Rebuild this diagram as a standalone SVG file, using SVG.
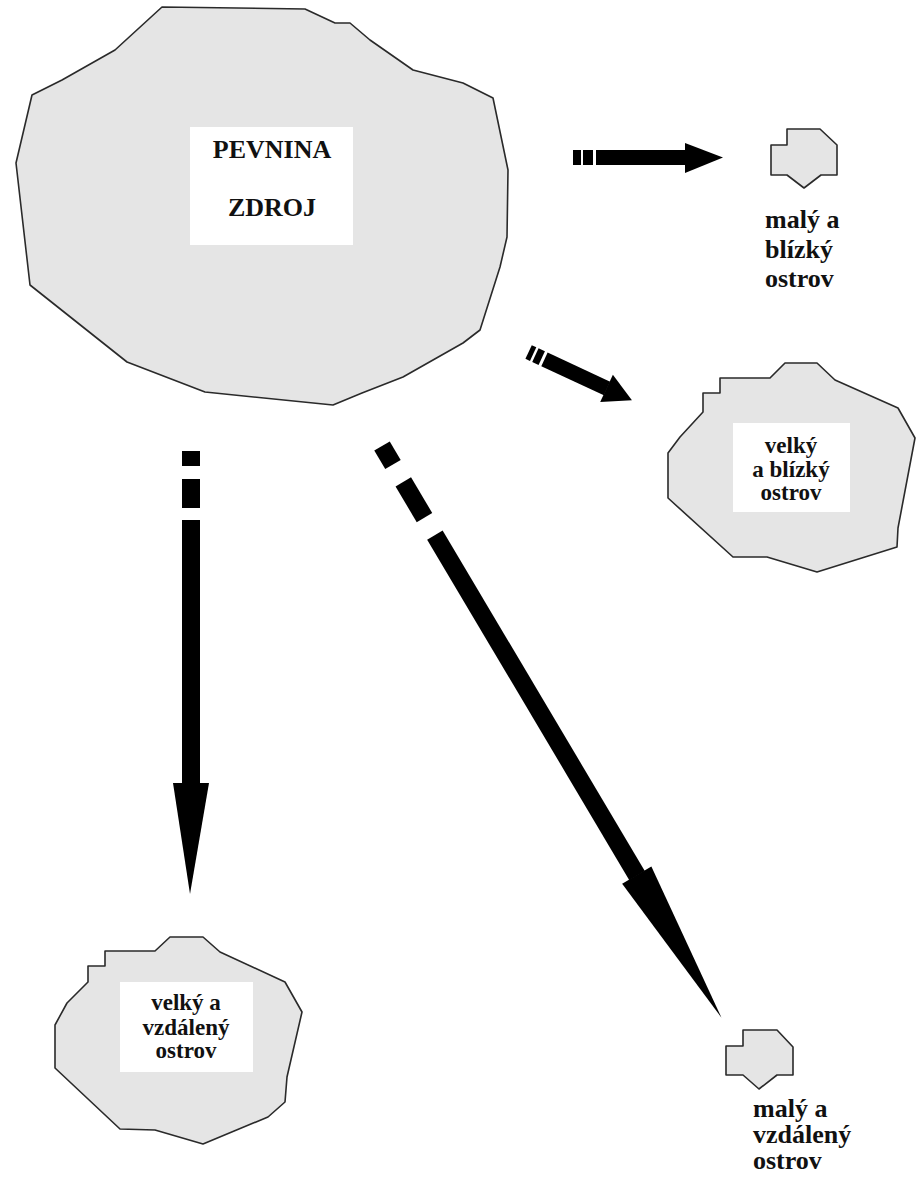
<svg xmlns="http://www.w3.org/2000/svg" width="921" height="1181" viewBox="0 0 921 1181">
<style>
.land{fill:#e5e5e5;stroke:#2a2a2a;stroke-width:1.6;stroke-linejoin:round}
.box{fill:#ffffff}
.arr{fill:#000000}
.t{font-family:"Liberation Serif","Times New Roman",serif;font-weight:bold;fill:#111111}
</style>
<rect width="921" height="1181" fill="#ffffff"/>
<g id="pevnina">
<polygon class="land" points="162,7 305,9 335,23 350,23 370,40 413,70 463,83 493,98 508,170 507,237 500,267 480,330 463,343 403,377 362,393 333,405 205,392 127,362 30,285 16,163 32,95 62,80 115,50"/>
<rect class="box" x="190" y="127" width="163" height="118"/>
<text class="t" x="272" y="158" font-size="26" text-anchor="middle">PEVNINA</text>
<text class="t" x="272" y="216" font-size="26" text-anchor="middle">ZDROJ</text>
</g>
<g id="maly-blizky">
<polygon class="land" points="787,129 820,129 837,145 837,175 821,175 804,188 787,175 771,175 771,145 787,145"/>
<text class="t" font-size="26" x="765" y="228">malý a</text>
<text class="t" font-size="26" x="765" y="258">blízký</text>
<text class="t" font-size="26" x="765" y="287">ostrov</text>
</g>
<g id="velky-blizky">
<polygon class="land" points="785,363 817,363 835,380 898,408 915,438 898,528 897,547 817,572 767,557 733,557 668,498 668,453 680,437 703,412 703,393 720,393 720,378 770,378"/>
<rect class="box" x="733" y="423" width="117" height="89"/>
<text class="t" font-size="23" text-anchor="middle" x="791" y="453">velký</text>
<text class="t" font-size="23" text-anchor="middle" x="791" y="477">a blízký</text>
<text class="t" font-size="23" text-anchor="middle" x="791" y="500">ostrov</text>
</g>
<g id="velky-vzdaleny">
<polygon class="land" points="170,937 203,937 220,952 285,982 302,1012 287,1077 285,1102 268,1117 203,1144 155,1130 120,1129 55,1068 55,1025 67,1003 88,982 88,966 105,966 105,951 155,951"/>
<rect class="box" x="120" y="982" width="133" height="90"/>
<text class="t" font-size="23" text-anchor="middle" x="186" y="1010">velký a</text>
<text class="t" font-size="23" text-anchor="middle" x="186" y="1035">vzdálený</text>
<text class="t" font-size="23" text-anchor="middle" x="186" y="1058">ostrov</text>
</g>
<g id="maly-vzdaleny">
<polygon class="land" points="743,1030 777,1030 793,1047 793,1075 777,1075 759,1089 743,1075 726,1075 726,1046 743,1046"/>
<text class="t" font-size="26" x="753" y="1117">malý a</text>
<text class="t" font-size="26" x="753" y="1143">vzdálený</text>
<text class="t" font-size="26" x="753" y="1169">ostrov</text>
</g>
<g id="connectors">
<g id="arrow-maly-blizky">
<rect class="arr" x="573" y="150" width="8" height="15"/>
<rect class="arr" x="583" y="150" width="10" height="15"/>
<rect class="arr" x="596" y="150" width="90" height="15"/>
<polygon class="arr" points="685,143 723,157.5 685,173"/>
</g>
<g id="arrow-velky-blizky" transform="translate(528.6,352) rotate(25)">
<rect class="arr" x="0" y="-7.5" width="5" height="15"/>
<rect class="arr" x="7.5" y="-7.5" width="7" height="15"/>
<rect class="arr" x="17.5" y="-7.5" width="69" height="15"/>
<polygon class="arr" points="86,-15 114,0 86,15"/>
</g>
<g id="arrow-velky-vzdaleny">
<rect class="arr" x="182" y="451" width="18" height="15"/>
<rect class="arr" x="182" y="479" width="18" height="29"/>
<rect class="arr" x="182" y="520" width="18" height="264"/>
<polygon class="arr" points="173,783 209,783 190,894"/>
</g>
<g id="arrow-maly-vzdaleny" transform="translate(382,446) rotate(59.3)">
<rect class="arr" x="0" y="-9" width="21.5" height="18"/>
<rect class="arr" x="41.7" y="-9" width="41.5" height="18"/>
<rect class="arr" x="103.6" y="-9" width="396" height="18"/>
<polygon class="arr" points="499,-17 665,0 499,17"/>
</g>
</g>
</svg>
